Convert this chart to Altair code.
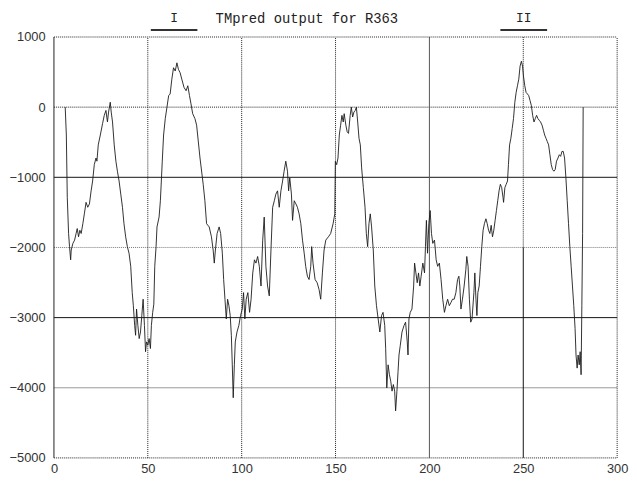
import altair as alt
import pandas as pd

# ---- data ----
pos = [6.0, 6.6, 7.1, 7.8, 8.3, 8.9, 9.2, 10.1, 11.0, 11.8, 12.4, 13.1, 13.8, 14.5, 15.4, 16.2, 17.1, 18.0, 18.9, 19.8,
       20.6, 21.5, 22.4, 22.9, 23.6, 24.7, 25.9, 26.8, 27.7, 28.5, 29.1, 30.0, 30.5, 31.2, 32.1, 33.0, 33.8, 34.7, 35.6,
       36.5, 37.3, 38.2, 39.1, 40.0, 40.9, 41.7, 42.3, 43.0, 43.5, 44.0, 44.7, 45.4, 46.1, 46.8, 47.5, 48.2, 48.8, 49.3,
       50.0, 50.7, 51.4, 51.9, 52.6, 53.2, 53.7, 54.4, 54.9, 56.0, 56.7, 57.2, 57.7, 58.4, 59.3, 60.2, 61.1, 61.9, 62.8,
       63.7, 64.6, 65.5, 66.3, 67.2, 68.1, 69.3, 70.4, 71.3, 72.2, 73.0, 73.9, 75.1,
       76.0, 77.8, 79.5, 80.4, 81.3, 82.7, 83.9, 84.8, 85.4, 86.0, 86.9, 88.0, 88.8, 89.7, 90.4, 91.1, 91.8, 92.5, 93.2,
       93.9, 94.5, 95.0, 95.5, 96.1, 96.6, 97.5, 98.5, 99.4, 100.3, 101.0, 101.7, 102.4, 103.3, 104.2, 105.0, 105.9,
       106.8, 107.6, 108.5, 109.4, 110.3, 111.2, 112.0, 112.9, 113.8, 114.7, 115.6, 116.5, 117.4, 118.2, 119.1, 120.0,
       120.9, 121.8, 122.6, 123.5, 124.4, 125.0, 125.6, 126.5, 127.1, 128.0, 128.9, 129.7, 130.6, 131.5, 132.4, 133.3,
       134.1, 135.0, 135.9, 136.8, 137.3, 138.0, 139.1, 140.2, 141.2, 142.1, 143.0, 143.9, 144.8, 146.2, 147.4, 148.7,
       149.6,
       149.9, 150.6, 151.3, 152.0, 152.7, 153.4, 154.1, 154.6, 155.5, 156.2, 156.9, 157.8, 158.4, 159.1, 159.8, 160.5,
       161.1, 161.8, 162.5, 163.2, 163.9, 164.8, 165.7, 166.4, 167.1, 167.8, 168.5, 169.2, 170.1, 170.9, 171.8, 172.7,
       173.6, 174.5, 175.3, 176.2, 176.7, 177.3, 178.0, 178.7, 179.4, 180.1, 180.8, 181.5, 182.0, 182.7, 183.3, 183.8,
       184.5, 185.4, 186.5, 187.3, 188.2, 188.6, 189.1, 189.8, 190.7, 191.6, 192.1, 192.8, 193.5, 194.2, 194.9, 195.6,
       196.5, 197.4, 197.9, 198.4, 199.0, 199.7, 200.4, 201.1, 201.8, 202.7, 203.6, 204.4, 205.3, 206.2, 207.1, 208.0,
       208.8, 209.7, 210.6, 211.5, 212.3, 213.2, 214.1, 215.0, 215.7, 216.2, 216.8, 217.6, 218.5, 219.4, 219.9, 220.6,
       221.3, 222.0, 222.7,
       223.7, 224.2, 224.8, 225.3, 225.8, 226.5, 227.2, 227.9, 228.6, 229.3, 230.1, 230.8, 231.5, 232.2, 232.9, 233.6,
       234.3, 235.0, 235.7, 236.4, 237.1, 237.8, 238.5, 239.2, 239.5, 240.2, 240.9, 241.6, 242.1, 242.7, 243.4, 244.1,
       244.8, 245.5, 246.2, 246.9, 247.6, 248.3, 249.0, 249.6, 250.1, 250.8, 251.5, 252.2, 252.9, 253.6, 254.3, 255.0,
       255.7, 256.4, 257.1, 257.8, 258.5, 259.2, 260.0, 260.7, 261.4, 262.1, 262.8, 263.5, 264.2, 264.9, 265.6, 266.3,
       267.0, 267.7, 268.5, 269.2, 269.9, 270.6, 271.3, 272.0, 272.7, 273.4, 274.1, 274.8, 275.5, 276.2, 276.9, 277.6,
       278.1, 278.7, 279.2, 279.8, 280.3, 280.8, 281.2, 281.6, 281.9]

score = [0, -397, -1286, -1801, -1988, -2176, -2036, -1942, -1895, -1801, -1731, -1848, -1755, -1801, -1661, -1521,
         -1357, -1427, -1380, -1193, -1053, -819, -725, -770, -538, -397, -234, -117, -47, -211, -70, 70, -70, -211,
         -538, -770, -913, -1053, -1240, -1427, -1661, -1848, -1988, -2082, -2269, -2644, -2830, -3111, -3252, -2878,
         -3111, -3299, -3205, -2971, -2738, -3111, -3486, -3346, -3393, -3299, -3440, -3111, -2925, -2808, -2269,
         -1988, -1707, -1567, -1334, -1053, -770, -397, -163, 0, 164, 188, 399, 562, 515, 632, 539, 491, 399, 281,
         234, 305, 164, 47, -93, -163,
         -257, -725, -1100, -1334, -1661, -1707, -1848, -2036, -2223, -2036, -1801, -1707, -1801, -2082, -2457, -2738,
         -3019, -2738, -2830, -2971, -3252, -3673, -4142, -3673, -3346, -3205, -3111, -2971, -2878, -2644, -3019,
         -2738, -2644, -2925, -2738, -2363, -2176, -2223, -2129, -2269, -2550, -1895, -1567, -2269, -2550, -2690,
         -2036, -1427, -1334, -1240, -1193, -1427, -1193, -1053, -913, -770, -913, -1193, -1006, -1240, -1614, -1334,
         -1380, -1427, -1521, -1661, -1895, -2082, -2269, -2410, -2457, -2269, -1988, -2223, -2457, -2503, -2597,
         -2738, -2363, -2036, -1895, -1848, -1801, -1661, -1521,
         -772, -820, -725, -397, -257, -117, -211, -93, -257, -351, -374, -117, 0, -140, -70, -47, 0, -211, -444, -538,
         -866, -1147, -1427, -1801, -1988, -1661, -1521, -1707, -2036, -2550, -2830, -3019, -3205, -2971, -2925,
         -3111, -3440, -4001, -3673, -3814, -3907, -4048, -3954, -4048, -4329, -4048, -3766, -3533, -3393, -3205,
         -3111, -3065, -3346, -3533, -3019, -2925, -2878, -2550, -2223, -2363, -2503, -2363, -2550, -2410, -2223,
         -2363, -1988, -1614, -2082, -1661, -1474, -1801, -1942, -1895, -2176, -2269, -2223, -2457, -2738, -2925,
         -2830, -2738, -2830, -2784, -2738, -2738, -2644, -2457, -2410, -2550, -2878, -2738, -2550, -2316, -2129,
         -2269, -2738, -3065, -3019,
         -2644, -2363, -2738, -2971, -2644, -2550, -2269, -1988, -1754, -1661, -1591, -1661, -1754, -1801, -1684,
         -1848, -1754, -1614, -1474, -1334, -1193, -1100, -1147, -1287, -1357, -1147, -1100, -1053, -819, -538, -444,
         -304, -163, 70, 210, 305, 399, 585, 655, 585, 445, 305, 210, 188, 164, 94, 23, -117, -211, -163, -117, -163,
         -187, -211, -257, -328, -397, -444, -491, -538, -678, -819, -889, -913, -889, -770, -725, -678, -701, -631,
         -631, -725, -1006, -1334, -1661, -1988, -2269, -2550, -2830, -3158, -3533, -3720, -3533, -3673, -3486,
         -3814, -2830, -1801, 0]

x_ticks = [0, 50, 100, 150, 200, 250, 300]
y_ticks = [-5000, -4000, -3000, -2000, -1000, 0, 1000]

helix_labels = ["I", "II"]
helix_start = [51.6, 237.8]
helix_end = [76.4, 262.7]

title_text = "TMpred output for R363"

# ---- chart ----
df = pd.DataFrame({"pos": pos, "score": score})
xs = alt.Scale(domain=[0, 300], nice=False, zero=False)
ys = alt.Scale(domain=[-5000, 1000], nice=False, zero=False)

def hrule(vals, color, dash=None, x_from=0, x_to=300, width=1.0):
    d = pd.DataFrame({"y": vals, "x": [x_from] * len(vals), "x2": [x_to] * len(vals)})
    kw = dict(color=color, strokeWidth=width)
    if dash:
        kw["strokeDash"] = dash
    return alt.Chart(d).mark_rule(**kw).encode(
        y=alt.Y("y:Q", scale=ys), x=alt.X("x:Q", scale=xs), x2="x2:Q")

def vrule(vals, color, dash=None, y_from=-5000, y_to=1000, width=1.0):
    d = pd.DataFrame({"x": vals, "y": [y_from] * len(vals), "y2": [y_to] * len(vals)})
    kw = dict(color=color, strokeWidth=width)
    if dash:
        kw["strokeDash"] = dash
    return alt.Chart(d).mark_rule(**kw).encode(
        x=alt.X("x:Q", scale=xs), y=alt.Y("y:Q", scale=ys), y2="y2:Q")

grid = [
    hrule([0], "#222", [1, 1]),
    hrule([-1000], "#111", None),
    hrule([-2000], "#777", [1, 1]),
    hrule([-3000], "#111", None),
    hrule([-4000], "#999", None),
    vrule([50, 100, 150], "#222", [1, 1]),
    vrule([200], "#555", None),
    vrule([250], "#222", [1, 1], y_from=-2000, y_to=1000),
    vrule([250], "#111", None, y_from=-5000, y_to=-2000),
    hrule([1000, -5000], "#222", [1, 1]),
    vrule([300], "#222", [1, 1]),
    vrule([0], "#222", None),
]

line = alt.Chart(df).mark_line(color="#1a1a1a", strokeWidth=0.9).encode(
    x=alt.X("pos:Q", scale=xs,
            axis=alt.Axis(values=x_ticks, title=None, grid=False, ticks=False, domain=False, format="d",
                          labelFont="Liberation Sans", labelFontSize=13, labelColor="#333",
                          labelPadding=5, labelFlush=False)),
    y=alt.Y("score:Q", scale=ys,
            axis=alt.Axis(values=y_ticks, title=None, grid=False, ticks=False, domain=False, format="d",
                          labelFont="Liberation Sans", labelFontSize=13, labelColor="#333",
                          labelPadding=9, labelFlush=False)),
)

hdf = pd.DataFrame({"label": helix_labels, "start": helix_start, "end": helix_end})
hdf["mid"] = (hdf["start"] + hdf["end"]) / 2
helix_bars = alt.Chart(hdf).mark_rule(color="#333", strokeWidth=2).encode(
    x=alt.X("start:Q", scale=xs), x2="end:Q", y=alt.value(-7))
helix_text = alt.Chart(hdf).mark_text(font="Liberation Mono", fontSize=13, color="#222",
                                      baseline="middle").encode(
    x=alt.X("mid:Q", scale=xs), y=alt.value(-19), text="label:N")

title = alt.Chart(pd.DataFrame({"t": [title_text]})).mark_text(
    font="Liberation Mono", fontSize=14, color="#222", baseline="middle").encode(
    x=alt.value(256), y=alt.value(-18), text="t:N")

chart = alt.layer(*grid, line, helix_bars, helix_text, title).properties(
    width=570, height=426,
    autosize=alt.AutoSizeParams(type="none"),
    padding={"left": 46.5, "top": 26.5, "right": 12, "bottom": 20},
).configure_view(stroke=None)

chart.save("out.html", embed_options={"renderer": "svg", "actions": False})
